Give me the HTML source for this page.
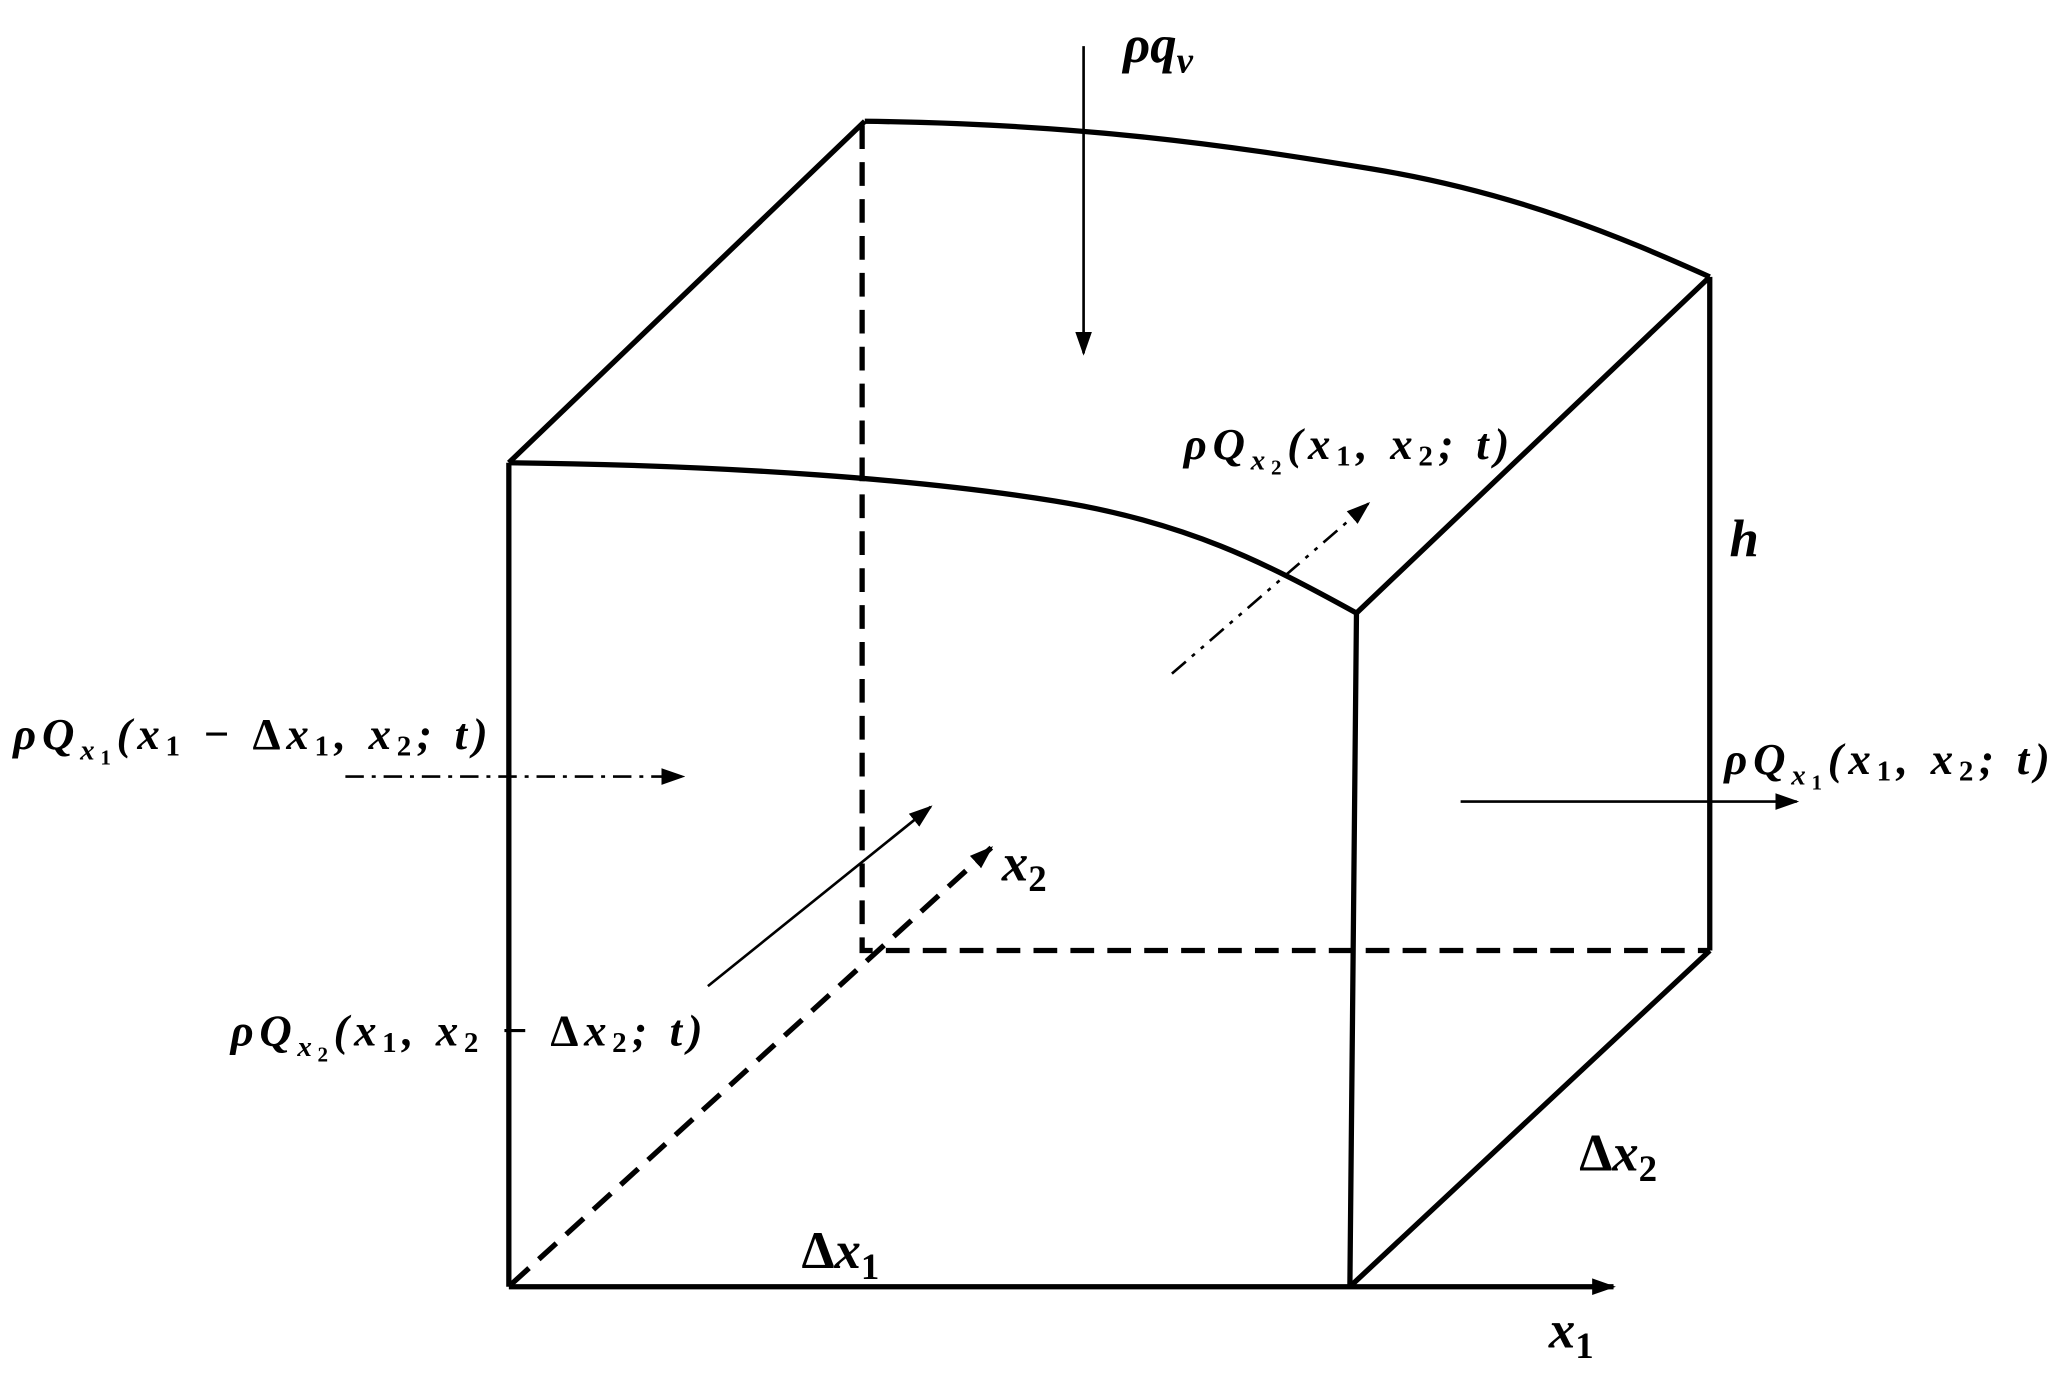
<!DOCTYPE html>
<html><head><meta charset="utf-8"><style>
html,body{margin:0;padding:0;background:#fff;}
svg{display:block;}
text{font-family:"Liberation Serif",serif;font-weight:bold;font-style:italic;fill:#000;}
.up{font-style:normal;}
</style></head><body>
<svg width="2067" height="1379" viewBox="0 0 1568 1046" preserveAspectRatio="none" xmlns="http://www.w3.org/2000/svg">
<defs>
<marker id="b" viewBox="0 0 10 10" refX="9" refY="5" markerWidth="18" markerHeight="18" orient="auto" markerUnits="userSpaceOnUse">
<path d="M0,1.5 L10,5 L0,8.5 z" fill="#000"/></marker>
</defs>
<g fill="none" stroke="#000" stroke-width="4">
<path d="M386,351 C560,353 700,364 800,380 C900,396 960,427 1029,465"/>
<path d="M656,92 C820,94 930,110 1040,128 C1150,146 1230,180 1297,210"/>
<path d="M386,351 L656,92 M1029,465 L1297,210 M1297,210 L1297,721 M1024,976 L1297,721 M1029,465 L1024,976 M386,351 L386,976"/>
<path d="M386,976 L1224,976" marker-end="url(#b)"/>
<path d="M654,95 L654,721 L1297,721" stroke-dasharray="18,10"/>
<path d="M388,974 L752,643" stroke-dasharray="18,10" marker-end="url(#b)"/>
</g>
<g fill="none" stroke="#000" stroke-width="2">
<path d="M822,35 L822,268" marker-end="url(#b)"/>
<path d="M537,748 L706,612" marker-end="url(#b)"/>
<path d="M1108,608 L1363,608" marker-end="url(#b)"/>
<path d="M262,589 L518,589" stroke-dasharray="14,6,3,6" marker-end="url(#b)"/>
<path d="M889,511 L1038,382" stroke-dasharray="14,6,3,6,3,6" marker-end="url(#b)"/>
</g>
<text x="852" y="47" font-size="40">ρq<tspan font-size="28" dy="8">v</tspan></text>
<text x="1312" y="422" font-size="40">h</text>
<text x="898" y="348" font-size="34" textLength="247" lengthAdjust="spacing">ρQ<tspan font-size="22" dy="8">x</tspan><tspan font-size="16" dy="4" class="up">2</tspan><tspan dy="-12">(x</tspan><tspan font-size="22" dy="5" class="up">1</tspan><tspan dy="-5">, x</tspan><tspan font-size="22" dy="5" class="up">2</tspan><tspan dy="-5">; t)</tspan></text>
<text x="10" y="568" font-size="34" textLength="360" lengthAdjust="spacing">ρQ<tspan font-size="22" dy="8">x</tspan><tspan font-size="16" dy="4" class="up">1</tspan><tspan dy="-12">(x</tspan><tspan font-size="22" dy="5" class="up">1</tspan><tspan dy="-5"> − </tspan><tspan class="up">Δ</tspan><tspan>x</tspan><tspan font-size="22" dy="5" class="up">1</tspan><tspan dy="-5">, x</tspan><tspan font-size="22" dy="5" class="up">2</tspan><tspan dy="-5">; t)</tspan></text>
<text x="1308" y="587" font-size="34" textLength="247" lengthAdjust="spacing">ρQ<tspan font-size="22" dy="8">x</tspan><tspan font-size="16" dy="4" class="up">1</tspan><tspan dy="-12">(x</tspan><tspan font-size="22" dy="5" class="up">1</tspan><tspan dy="-5">, x</tspan><tspan font-size="22" dy="5" class="up">2</tspan><tspan dy="-5">; t)</tspan></text>
<text x="175" y="793" font-size="34" textLength="358" lengthAdjust="spacing">ρQ<tspan font-size="22" dy="8">x</tspan><tspan font-size="16" dy="4" class="up">2</tspan><tspan dy="-12">(x</tspan><tspan font-size="22" dy="5" class="up">1</tspan><tspan dy="-5">, x</tspan><tspan font-size="22" dy="5" class="up">2</tspan><tspan dy="-5"> − </tspan><tspan class="up">Δ</tspan><tspan>x</tspan><tspan font-size="22" dy="5" class="up">2</tspan><tspan dy="-5">; t)</tspan></text>
<text x="760" y="668" font-size="40">x<tspan font-size="28" dy="8" class="up">2</tspan></text>
<text x="1198" y="888" font-size="40"><tspan class="up">Δ</tspan>x<tspan font-size="28" dy="8" class="up">2</tspan></text>
<text x="608" y="962" font-size="40"><tspan class="up">Δ</tspan>x<tspan font-size="28" dy="8" class="up">1</tspan></text>
<text x="1175" y="1022" font-size="40">x<tspan font-size="28" dy="8" class="up">1</tspan></text>
</svg>
</body></html>
